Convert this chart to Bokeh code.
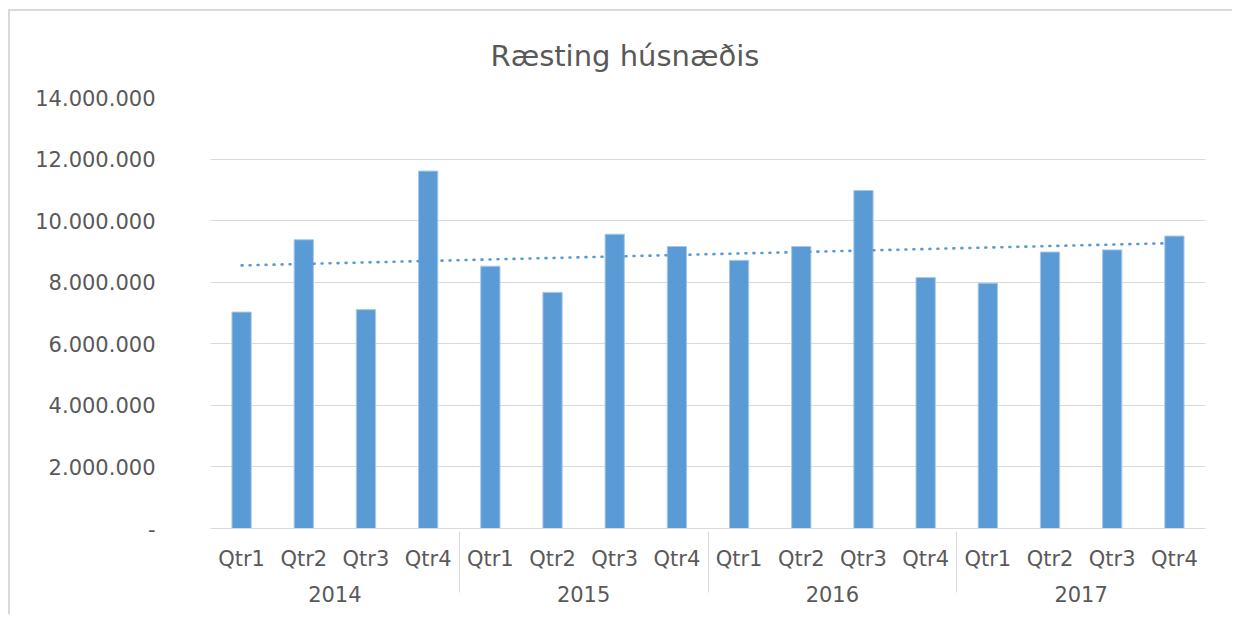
import numpy as np
from bokeh.plotting import figure
from bokeh.models import FactorRange, Range1d, FixedTicker
from bokeh.embed import file_html
from bokeh.resources import INLINE

title_text = "Ræsting húsnæðis"
years = ["2014", "2015", "2016", "2017"]
quarters = ["Qtr1", "Qtr2", "Qtr3", "Qtr4"]
values = [
    7030000, 9380000, 7110000, 11610000,   # 2014
    8520000, 7670000, 9560000, 9160000,    # 2015
    8710000, 9160000, 10980000, 8150000,   # 2016
    7970000, 8980000, 9050000, 9500000,    # 2017
]
y_ticks = [0, 2000000, 4000000, 6000000, 8000000, 10000000, 12000000, 14000000]
y_tick_labels = ["-", "2.000.000", "4.000.000", "6.000.000", "8.000.000",
                 "10.000.000", "12.000.000", "14.000.000"]

factors = [(y, q) for y in years for q in quarters]

# linear trendline (least squares over category index)
idx = np.arange(len(values))
slope, intercept = np.polyfit(idx, np.array(values, dtype=float), 1)
trend = list(slope * idx + intercept)

BLUE = "#5B9BD5"
GRID = "#d9d9d9"
TXT = "#595959"
FONT = "DejaVu Sans"

p = figure(
    x_range=FactorRange(*factors, factor_padding=0, group_padding=0, range_padding=0),
    y_range=Range1d(0, 14000000),
    width=1224, height=605,
    output_backend="svg", toolbar_location=None,
    min_border_left=200, min_border_right=29,
    min_border_top=86, min_border_bottom=88,
)
p.styles = {"border-top": "2px solid #d9d9d9", "border-left": "2px solid #d9d9d9",
            "margin-left": "8px", "margin-top": "9px"}

p.vbar(x=factors, top=values, width=0.31, fill_color=BLUE, line_color="#a9c8ea", line_width=1)
p.line(x=factors, y=trend, line_color=BLUE, line_width=2.6, line_dash="1 7", line_cap="round")

p.title.text = title_text
p.title.text_font = FONT
p.title.text_font_size = "29px"
p.title.text_font_style = "normal"
p.title.text_color = TXT
p.title.align = "left"
p.title.offset = 280
p.title.standoff = 50

p.outline_line_color = None
p.xgrid.grid_line_color = None
p.ygrid.grid_line_color = GRID
p.ygrid.grid_line_width = 1
p.ygrid.ticker = FixedTicker(ticks=y_ticks)

yax = p.yaxis[0]
yax.ticker = FixedTicker(ticks=y_ticks)
yax.major_label_overrides = {t: l for t, l in zip(y_ticks, y_tick_labels)}
yax.axis_line_color = None
yax.major_tick_line_color = None
yax.minor_tick_line_color = None
yax.major_tick_out = 0
yax.major_label_standoff = 55
yax.major_label_text_font = FONT
yax.major_label_text_font_size = "21px"
yax.major_label_text_color = TXT

xax = p.xaxis[0]
xax.axis_line_color = GRID
xax.axis_line_width = 1
xax.major_tick_line_color = None
xax.minor_tick_line_color = None
xax.major_label_text_font = FONT
xax.major_label_text_font_size = "21px"
xax.major_label_text_color = TXT
xax.major_label_standoff = 12
xax.group_text_font = FONT
xax.group_text_font_size = "21px"
xax.group_text_font_style = "normal"
xax.group_text_color = TXT
xax.separator_line_color = GRID
xax.separator_line_width = 1

open("out.html", "w").write(file_html(p, INLINE))
